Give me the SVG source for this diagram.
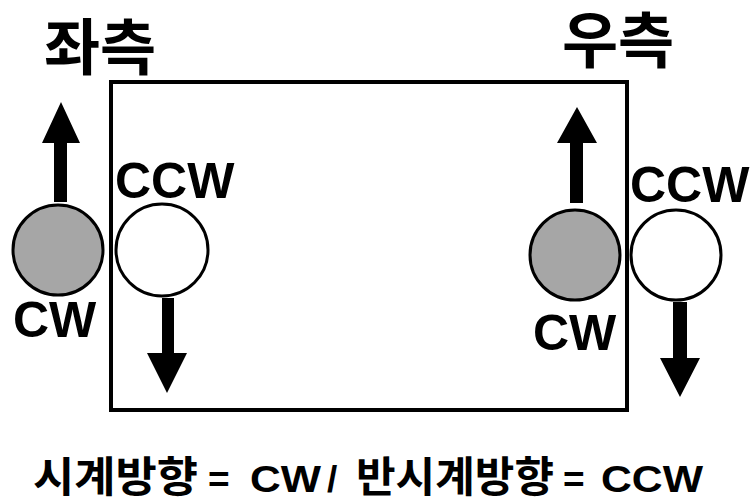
<svg xmlns="http://www.w3.org/2000/svg" width="756" height="500" viewBox="0 0 756 500">
  <style>
    .title { font-family: "Noto Sans CJK KR", sans-serif; font-weight: bold; font-size: 61px; fill: #000; }
    .lbl { font-family: "Liberation Sans", Arial, sans-serif; font-weight: bold; font-size: 50px; fill: #000; }
    .kr { font-family: "Noto Sans CJK KR", sans-serif; font-weight: bold; font-size: 42px; fill: #000; }
    .lt { font-family: "Liberation Sans", Arial, sans-serif; font-weight: bold; font-size: 37px; fill: #000; }
    .roller-cw { fill: #a6a6a6; stroke: #000; stroke-width: 3; }
    .roller-ccw { fill: #fff; stroke: #000; stroke-width: 3; }
    .arrow { fill: #000; stroke: none; }
    .frame { fill: #fff; stroke: #000; stroke-width: 4; }
  </style>
  <rect width="756" height="500" fill="#fff"/>

  <g id="frame">
    <rect class="frame" x="111" y="82" width="516" height="328"/>
  </g>

  <g id="title-left">
    <text class="title" x="44" y="70">좌측</text>
  </g>
  <g id="title-right">
    <text class="title" x="562" y="63">우측</text>
  </g>

  <g id="left-cw-roller">
    <circle class="roller-cw" cx="58" cy="250" r="45"/>
    <text class="lbl" x="13" y="337">CW</text>
  </g>
  <g id="left-ccw-roller">
    <circle class="roller-ccw" cx="162" cy="250" r="46"/>
    <text class="lbl" x="115" y="198">CCW</text>
  </g>
  <g id="right-cw-roller">
    <circle class="roller-cw" cx="575" cy="255" r="45"/>
    <text class="lbl" x="533" y="350">CW</text>
  </g>
  <g id="right-ccw-roller">
    <circle class="roller-ccw" cx="676" cy="255" r="45"/>
    <text class="lbl" x="630" y="202">CCW</text>
  </g>

  <g id="connectors">
    <polygon class="arrow" points="54,202 67,202 67,143 80,143 61,102 42,143 54,143"/>
    <polygon class="arrow" points="162,298 174,298 174,353 187,353 167,393 147,353 162,353"/>
    <polygon class="arrow" points="570,203 583,203 583,143 597,143 577,107 557,143 570,143"/>
    <polygon class="arrow" points="673,302 687,302 687,358 700,358 680,397 660,358 673,358"/>
  </g>

  <g id="legend">
    <text class="kr" x="33" y="492" textLength="165" lengthAdjust="spacingAndGlyphs">시계방향</text>
    <text class="lt" x="208" y="492">=</text>
    <text class="lt" x="250" y="492" textLength="71" lengthAdjust="spacingAndGlyphs">CW</text>
    <text class="lt" x="327" y="492">/</text>
    <text class="kr" x="356" y="492" textLength="198" lengthAdjust="spacingAndGlyphs">반시계방향</text>
    <text class="lt" x="563" y="492">=</text>
    <text class="lt" x="601" y="492" textLength="102" lengthAdjust="spacingAndGlyphs">CCW</text>
  </g>
</svg>
